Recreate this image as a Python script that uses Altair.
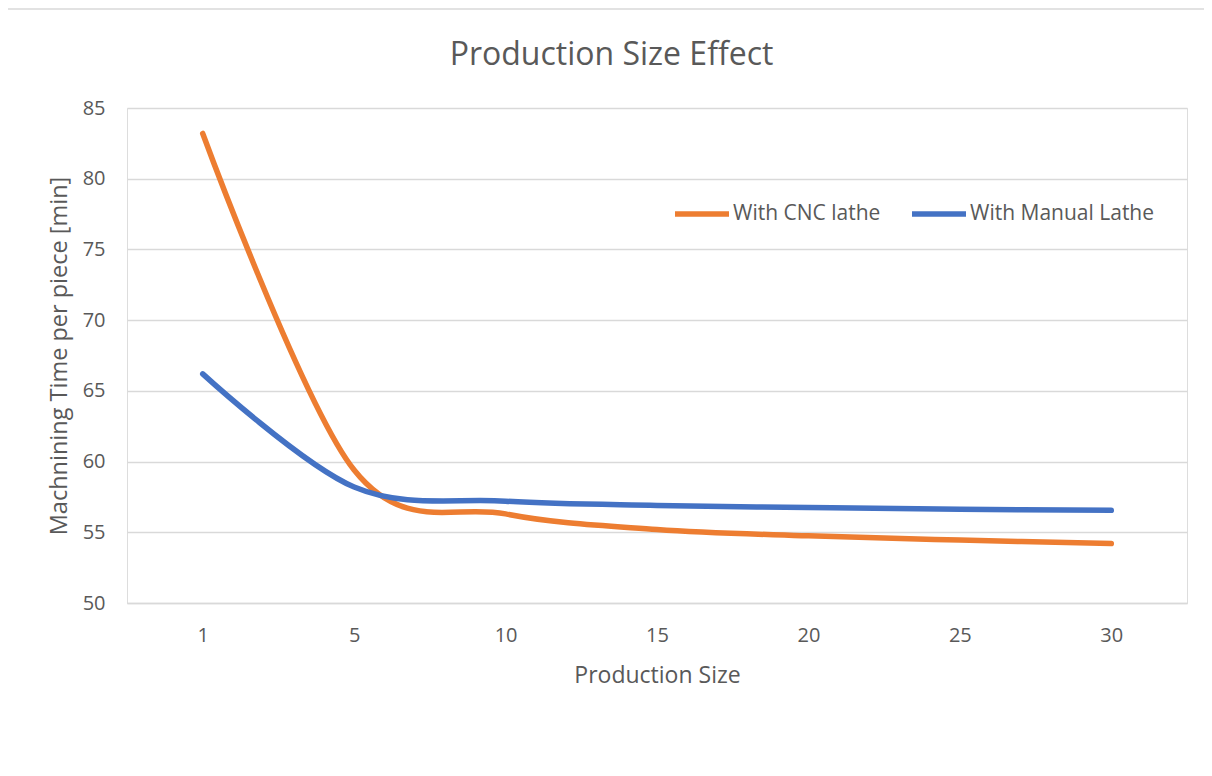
import altair as alt
import pandas as pd

sizes = ["1", "5", "10", "15", "20", "25", "30"]
cnc = [83.2, 59.4, 56.3, 55.2, 54.75, 54.45, 54.2]
manual = [66.2, 58.2, 57.2, 56.9, 56.75, 56.62, 56.55]
series_names = ["With CNC lathe", "With Manual Lathe"]
series_colors = ["#ED7D31", "#4472C4"]
y_ticks = [50, 55, 60, 65, 70, 75, 80, 85]
chart_title = "Production Size Effect"

rows = []
for s, v in zip(sizes, cnc):
    rows.append({"size": s, "time": v, "series": series_names[0]})
for s, v in zip(sizes, manual):
    rows.append({"size": s, "time": v, "series": series_names[1]})
df = pd.DataFrame(rows)

FONT = "Open Sans"
TXT = "#595959"
GRID = "#D9D9D9"

one = pd.DataFrame({"k": [0]})

border = alt.Chart(one).mark_rect(
    fillOpacity=0, stroke=GRID, strokeWidth=1.5
).encode(
    x=alt.value(-120), x2=alt.value(1400), y=alt.value(-99), y2=alt.value(1000)
)

title = alt.Chart(one).mark_text(
    font=FONT, fontSize=32, color=TXT, align="center", baseline="alphabetic"
).encode(
    x=alt.value(484.5), y=alt.value(-43), text=alt.value(chart_title)
)

lines = alt.Chart(df).mark_line(
    strokeWidth=5.5, strokeCap="round", interpolate="cardinal"
).encode(
    x=alt.X(
        "size:O",
        sort=sizes,
        scale=alt.Scale(type="point", padding=0.5),
        axis=alt.Axis(
            title="Production Size",
            labelAngle=0,
            labelFont=FONT, labelFontSize=20, labelColor=TXT,
            labelPadding=22, labelBaseline="top",
            ticks=False, domain=True, domainColor=GRID, domainWidth=1.3,
            grid=False,
            titleFont=FONT, titleFontSize=23, titleColor=TXT, titleFontWeight="normal",
            titleBaseline="alphabetic", titleY=79, titleAnchor="middle",
        ),
    ),
    y=alt.Y(
        "time:Q",
        scale=alt.Scale(domain=[50, 85], nice=False, zero=False),
        axis=alt.Axis(
            title="Machnining Time per piece [min]",
            values=y_ticks,
            labelFont=FONT, labelFontSize=20, labelColor=TXT, labelPadding=22,
            ticks=False, domain=False,
            grid=True, gridColor=GRID, gridWidth=1.3,
            titleFont=FONT, titleFontSize=23.5, titleColor=TXT, titleFontWeight="normal",
            titleAngle=270, titleAlign="center", titleBaseline="alphabetic",
            titleX=-61, titleY=247.5,
        ),
    ),
    color=alt.Color(
        "series:N",
        sort=series_names,
        scale=alt.Scale(domain=series_names, range=series_colors),
        legend=alt.Legend(
            title=None,
            orient="none", legendX=545, legendY=76,
            direction="horizontal",
            symbolType="stroke", symbolSize=2916, symbolStrokeWidth=5.5,
            labelFont=FONT, labelFontSize=21, labelColor=TXT, labelOffset=1,
            labelLimit=400, columnPadding=20,
        ),
    ),
)

chart = alt.layer(border, title, lines).properties(
    width=1060,
    height=495,
    padding={"left": 119, "top": 100, "right": 17, "bottom": 150},
    autosize=alt.AutoSizeParams(type="none"),
).configure_view(stroke=None).configure(background="white")

chart.save("out.html", embed_options={"renderer": "svg", "actions": False})
